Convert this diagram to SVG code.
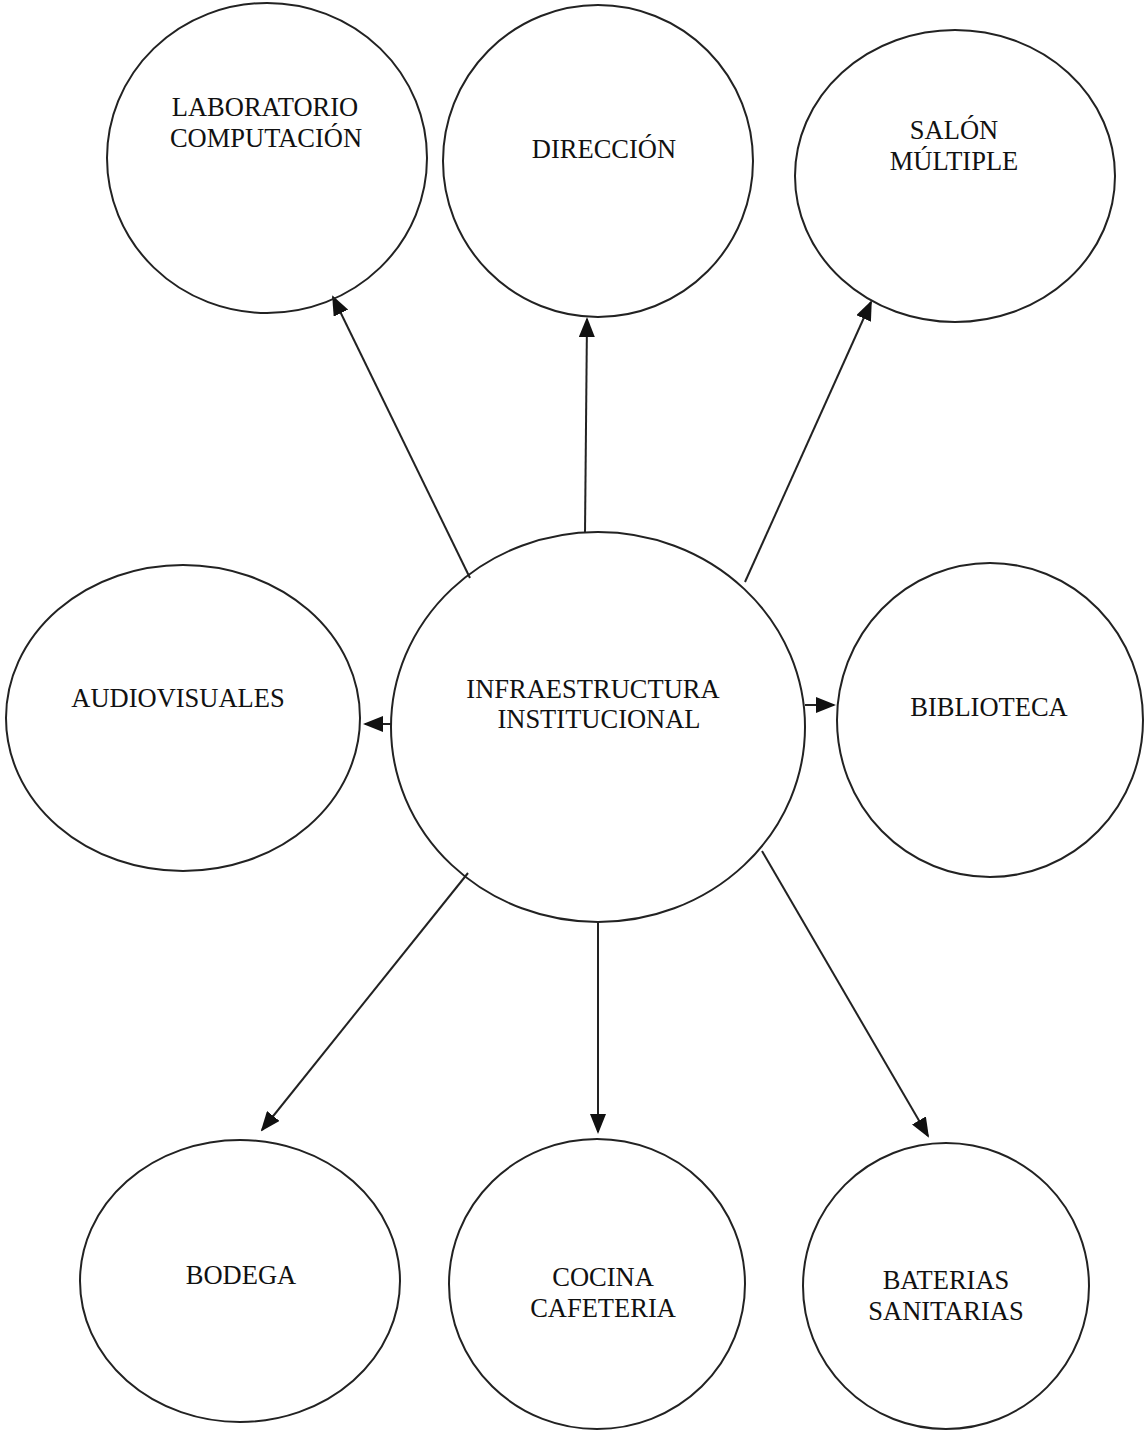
<svg xmlns="http://www.w3.org/2000/svg" width="1144" height="1431" viewBox="0 0 1144 1431">
<style>
.n{fill:none;stroke:#222;stroke-width:2}
.t{font-family:"Liberation Serif","Times New Roman",serif;font-size:26.5px;fill:#111;text-anchor:middle}
.c{stroke:#222;stroke-width:2;fill:none;marker-end:url(#ah)}
</style>
<defs>
<marker id="ah" markerWidth="10" markerHeight="8" refX="9" refY="4" orient="auto" markerUnits="strokeWidth">
<path d="M0,0 L10,4 L0,8 Z" fill="#111"/>
</marker>
</defs>
<rect width="1144" height="1431" fill="#fff"/>
<g id="connectors">
<line class="c" x1="470" y1="578" x2="333" y2="297"/>
<line class="c" x1="585" y1="533" x2="587" y2="319"/>
<line class="c" x1="745" y1="582" x2="871" y2="302"/>
<line class="c" x1="391" y1="724" x2="365" y2="724"/>
<line class="c" x1="805" y1="705" x2="834" y2="705"/>
<line class="c" x1="468" y1="873" x2="262" y2="1130"/>
<line class="c" x1="598" y1="922" x2="598" y2="1132"/>
<line class="c" x1="762" y1="851" x2="928" y2="1136"/>
</g>
<g id="lab"><ellipse class="n" cx="267" cy="158" rx="160" ry="155"/><text class="t" x="265" y="116">LABORATORIO</text><text class="t" x="266" y="147">COMPUTACIÓN</text></g>
<g id="direccion"><ellipse class="n" cx="598" cy="161" rx="155" ry="156"/><text class="t" x="604" y="158">DIRECCIÓN</text></g>
<g id="salon"><ellipse class="n" cx="955" cy="176" rx="160" ry="146"/><text class="t" x="954" y="139">SALÓN</text><text class="t" x="954" y="170">MÚLTIPLE</text></g>
<g id="audio"><ellipse class="n" cx="183" cy="718" rx="177" ry="153"/><text class="t" x="178" y="707">AUDIOVISUALES</text></g>
<g id="infra"><ellipse class="n" cx="598" cy="727" rx="207" ry="195"/><text class="t" x="593" y="698">INFRAESTRUCTURA</text><text class="t" x="599" y="728">INSTITUCIONAL</text></g>
<g id="biblioteca"><ellipse class="n" cx="990" cy="720" rx="153" ry="157"/><text class="t" x="989" y="716">BIBLIOTECA</text></g>
<g id="bodega"><ellipse class="n" cx="240" cy="1281" rx="160" ry="141"/><text class="t" x="241" y="1284">BODEGA</text></g>
<g id="cocina"><ellipse class="n" cx="597" cy="1284" rx="148" ry="145"/><text class="t" x="603" y="1286">COCINA</text><text class="t" x="603" y="1317">CAFETERIA</text></g>
<g id="baterias"><ellipse class="n" cx="946" cy="1286" rx="143" ry="143"/><text class="t" x="946" y="1289">BATERIAS</text><text class="t" x="946" y="1320">SANITARIAS</text></g>
</svg>
